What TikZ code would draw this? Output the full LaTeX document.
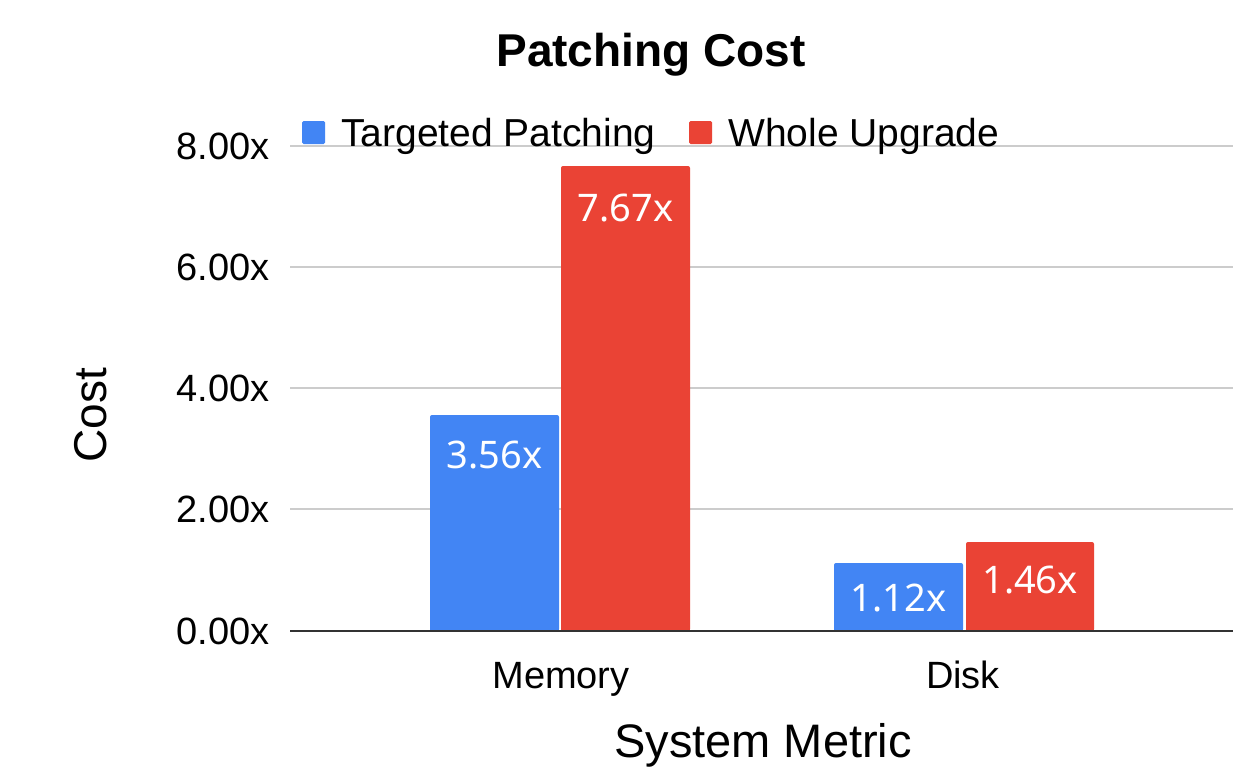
\documentclass[tikz,border=0pt]{standalone}
\usepackage{fontspec}
\setmainfont{Liberation Sans}
\newfontfamily\barfont{Noto Sans}
\definecolor{gblue}{HTML}{4285F4}
\definecolor{gred}{HTML}{EA4335}
\definecolor{gridgray}{HTML}{CCCCCC}
\definecolor{axisdark}{HTML}{333333}
\begin{document}
\begin{tikzpicture}[x=1pt,y=-1pt,
  txt/.style={inner sep=0pt,font=\fontsize{38}{40}\selectfont},
  legtxt/.style={inner sep=0pt,font=\fontsize{39}{41}\selectfont,anchor=base west},
  ticklbl/.style={txt,anchor=east},
  barlbl/.style={inner sep=0pt,text=white,font=\barfont\fontsize{38}{40}\selectfont},
  gridln/.style={draw=gridgray,line width=1.3pt},
  bluebar/.style={fill=gblue,rounded corners=2pt},
  redbar/.style={fill=gred,rounded corners=2pt}]
\useasboundingbox (0,0) rectangle (1233,768);
\fill[white] (0,0) rectangle (1233,768);
% gridlines
\foreach \v/\y in {2/509,4/388,6/267,8/146}{
  \draw[gridln] (290,\y) -- (1233,\y);
}
% tick labels
\node[ticklbl] (t0) at (270,631) {0.00x};
\node[ticklbl] (t2) at (270,509) {2.00x};
\node[ticklbl] (t4) at (270,388) {4.00x};
\node[ticklbl] (t6) at (270,267) {6.00x};
\node[ticklbl] (t8) at (270,146) {8.00x};
% bars
\path[bluebar] (430,631) -- (430,415) -- (559,415) -- (559,631) -- cycle;
\path[redbar] (561,631) -- (561,166) -- (690,166) -- (690,631) -- cycle;
\path[bluebar] (834,631) -- (834,563) -- (963,563) -- (963,631) -- cycle;
\path[redbar] (966,631) -- (966,542) -- (1094,542) -- (1094,631) -- cycle;
\fill[gblue] (430,600) rectangle (559,631);
\fill[gred] (561,600) rectangle (690,631);
\fill[gblue] (834,600) rectangle (963,631);
\fill[gred] (966,600) rectangle (1094,631);
% baseline
\draw[draw=axisdark,line width=1.5pt] (290,631) -- (1233,631);
% bar labels
\node[barlbl] (l1) at (494.5,455) {3.56x};
\node[barlbl] (l2) at (625.5,208) {7.67x};
\node[barlbl] (l3) at (898.5,598) {1.12x};
\node[barlbl] (l4) at (1030,580) {1.46x};
% category labels
\node[txt,anchor=base] (cm) at (561,688) {Memory};
\node[txt,anchor=base] (cd) at (963,688) {Disk};
% axis titles
\node[inner sep=0pt,font=\fontsize{47}{50}\selectfont] (xt) at (763,745) {System Metric};
\node[inner sep=0pt,font=\fontsize{46}{48}\selectfont,rotate=90] (yt) at (91,415) {Cost};
% title
\node[inner sep=0pt,font=\bfseries\fontsize{46}{50}\selectfont] (title) at (651,55) {Patching Cost};
% legend
\fill[gblue,rounded corners=1.5pt] (302,121) rectangle (325,144);
\node[legtxt] (lg1) at (341,146) {Targeted Patching};
\fill[gred,rounded corners=1.5pt] (689,121) rectangle (712,144);
\node[legtxt] (lg2) at (728,146) {Whole Upgrade};
\end{tikzpicture}
\end{document}
